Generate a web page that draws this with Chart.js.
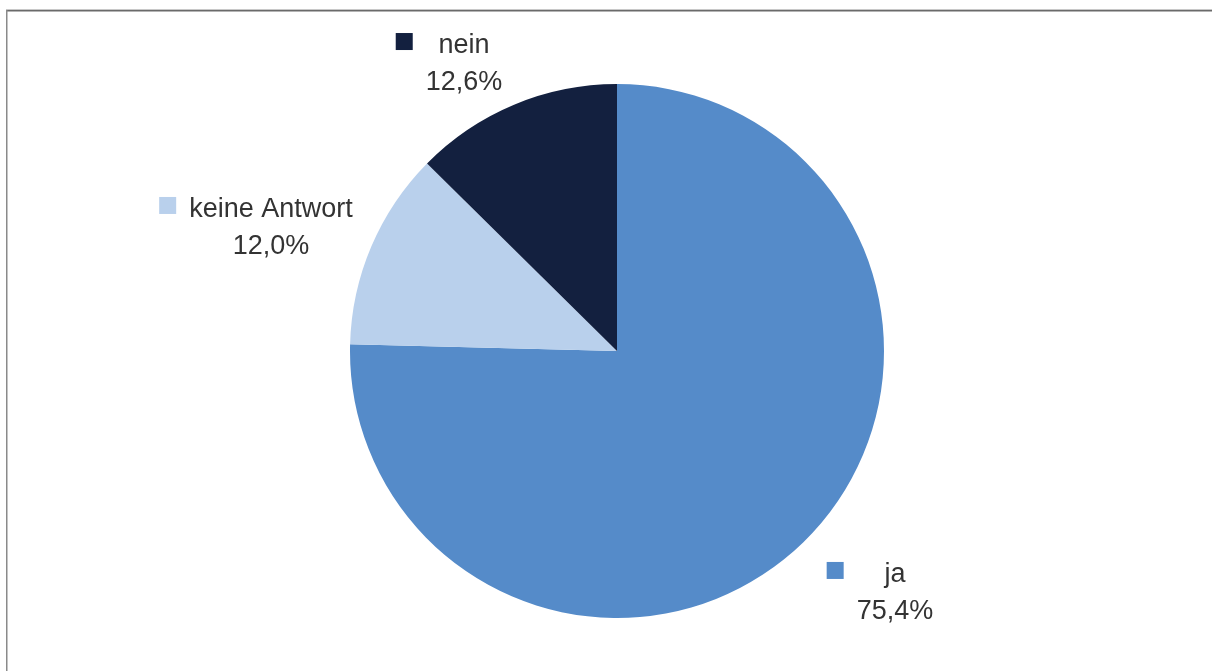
<!DOCTYPE html>
<html>
<head>
<meta charset="utf-8">
<script src="https://cdn.jsdelivr.net/npm/chart.js@4/dist/chart.umd.min.js"></script>
<style>
html,body{margin:0;padding:0;background:#fff;}
#wrap{width:1212px;height:671px;position:relative;}
</style>
</head>
<body>
<div id="wrap"><canvas id="c" width="1212" height="671"></canvas></div>
<script>
const categories = ["ja", "keine Antwort", "nein"];
const shares = [75.4, 12.0, 12.6];
const percentLabels = ["75,4%", "12,0%", "12,6%"];
const colors = ["#558BC9", "#B9D0EC", "#13203F"];
// label block anchors, in units of the pie radius relative to the pie centre
const labelAnchors = [[1.041, 0.865], [-1.296, -0.502], [-0.573, -1.116]];

const FONT = '27px "Liberation Sans", Arial, sans-serif';
const TEXT = '#333333';

const framePlugin = {
  id: 'frame',
  beforeDraw(chart) {
    const ctx = chart.ctx;
    ctx.save();
    ctx.fillStyle = '#fff';
    ctx.fillRect(0, 0, chart.width, chart.height);
    ctx.fillStyle = '#c8c8c8';
    ctx.fillRect(6, 9, chart.width - 6, 1);
    ctx.fillStyle = '#6a6a6a';
    ctx.fillRect(6, 10, chart.width - 6, 1.5);
    ctx.fillStyle = '#8a8a8a';
    ctx.fillRect(6, 10, 1.5, chart.height - 10);
    ctx.restore();
  }
};

const labelPlugin = {
  id: 'pieLabels',
  afterDatasetsDraw(chart) {
    const ctx = chart.ctx;
    const meta = chart.getDatasetMeta(0);
    ctx.save();
    ctx.font = FONT;
    ctx.textBaseline = 'alphabetic';
    meta.data.forEach((arc, i) => {
      const cx = arc.x, cy = arc.y, r = arc.outerRadius;
      const ax = cx + labelAnchors[i][0] * r;
      const by = cy + labelAnchors[i][1] * r;
      const name = categories[i];
      const pct = percentLabels[i];
      const wn = ctx.measureText(name).width;
      const wp = ctx.measureText(pct).width;
      const blockLeft = ax - Math.max(wn, wp) / 2;
      ctx.fillStyle = colors[i];
      ctx.fillRect(blockLeft - 13 - 17, by - 20, 17, 17);
      ctx.fillStyle = TEXT;
      ctx.textAlign = 'center';
      ctx.fillText(name, ax, by);
      ctx.fillText(pct, ax, by + 37);
    });
    ctx.restore();
  }
};

new Chart(document.getElementById('c'), {
  type: 'pie',
  data: {
    labels: categories,
    datasets: [{
      data: shares,
      backgroundColor: colors,
      borderWidth: 0,
      offset: 0
    }]
  },
  options: {
    responsive: false,
    animation: false,
    layout: { padding: { left: 350, right: 328, top: 84, bottom: 53 } },
    plugins: { legend: { display: false }, tooltip: { enabled: false } }
  },
  plugins: [framePlugin, labelPlugin]
});
</script>
</body>
</html>
